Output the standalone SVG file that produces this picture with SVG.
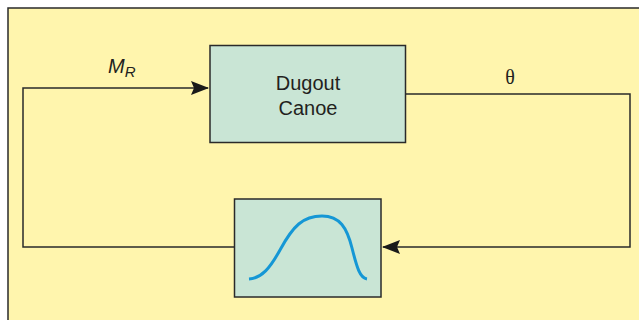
<svg xmlns="http://www.w3.org/2000/svg" width="639" height="320" viewBox="0 0 639 320">
<style>
.box{fill:#C9E5D5;stroke:#2a2a2a;stroke-width:1.5}
.wire{fill:none;stroke:#2a2a2a;stroke-width:1.5}
.lbl{font-family:"Liberation Sans",Arial,sans-serif;font-size:20px;fill:#231f20}
</style>
<defs>
<marker id="arr" viewBox="0 0 18 14" refX="17" refY="7" markerWidth="18" markerHeight="14" markerUnits="userSpaceOnUse" orient="auto">
<path d="M0,0 L18,7 L0,14 L3,7 Z" fill="#1a1a1a"/>
</marker>
</defs>
<rect x="8" y="8" width="640" height="320" fill="#FFF5AD" stroke="#2a2a2a" stroke-width="1.5"/>
<g id="connectors">
<polyline class="wire" points="406,94 630,94 630,247 383,247" marker-end="url(#arr)"/>
<polyline class="wire" points="234,247 23,247 23,88 208,88" marker-end="url(#arr)"/>
</g>
<g id="dugout-canoe">
<rect class="box" x="210" y="45.5" width="195.5" height="97"/>
<text class="lbl" x="308" y="90" text-anchor="middle">Dugout</text>
<text class="lbl" x="308" y="115" text-anchor="middle">Canoe</text>
</g>
<g id="filter">
<rect class="box" x="234.5" y="199" width="146.5" height="98"/>
<path d="M249,279 C262,278 270,268 280,250 C293,226 303,216 322,216 C340,216 347,228 352,248 C357,268 360,278 367,279" fill="none" stroke="#1597D5" stroke-width="3"/>
</g>
<g id="labels">
<text class="lbl" x="108" y="73" font-style="italic" font-size="21">M<tspan font-size="15" dy="4">R</tspan></text>
<text x="510" y="84" text-anchor="middle" font-family="Liberation Serif,'Times New Roman',serif" font-size="20" fill="#231f20">θ</text>
</g>
</svg>
